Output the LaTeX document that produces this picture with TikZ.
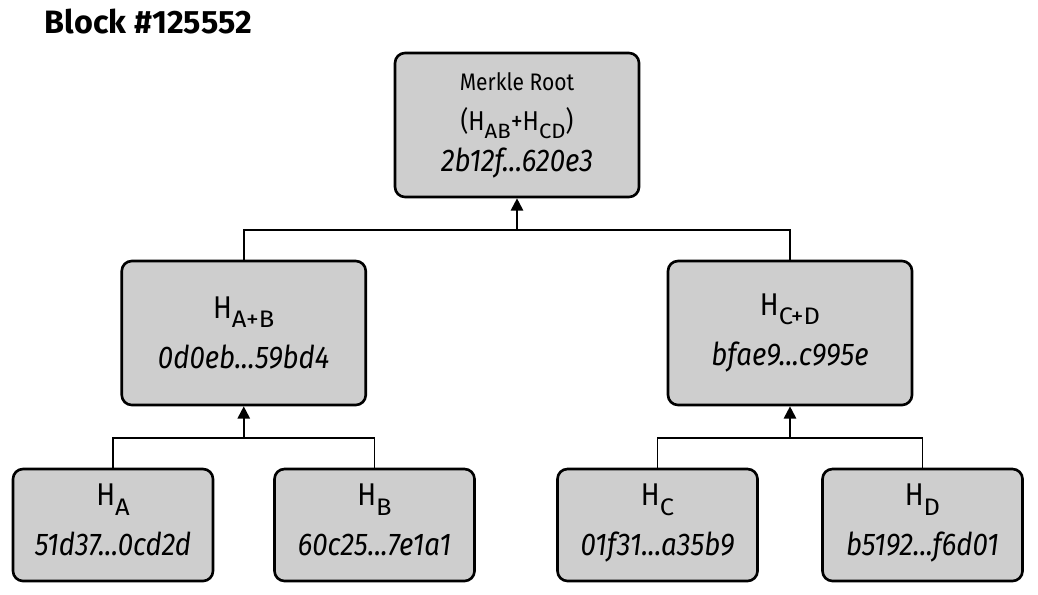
\documentclass[tikz,border=0pt]{standalone}
\usepackage{fontspec}
\setmainfont{Fira Sans}[UprightFeatures={FakeStretch=0.88},ItalicFeatures={FakeStretch=0.88},
	BoldFeatures={FakeStretch=1}]
\usetikzlibrary{arrows.meta,calc,positioning}
\definecolor{boxgray}{RGB}{206,206,206}
\newcommand{\hsub}[1]{H\raisebox{-0.3em}{\scalebox{0.92}[0.76]{#1}}}

\begin{document}
\begin{tikzpicture}[line width=1.1pt,
	hbox/.style={draw,fill=boxgray,rounded corners=0.2cm,line width=1.5pt,
		align=center,inner sep=0pt},
	big/.style={hbox,minimum width=4.88cm,minimum height=2.88cm},
	mid/.style={big,font=\fontsize{17.9}{28.5}\selectfont,execute at begin node={\rule{0pt}{18pt}}},
	leaf/.style={hbox,minimum width=4cm,minimum height=2.24cm,font=\fontsize{17.9}{28.5}\selectfont,
		execute at end node={\rule[-5.7pt]{0pt}{5.7pt}}},
	arr/.style={-{Triangle[length=7pt,width=7pt]}}]
	\useasboundingbox (0,0) rectangle (20.76,11.88);
	\node[anchor=base west,font=\fontsize{18.4}{20}\selectfont\bfseries] (title) at (0.76,11.22) {Block \#125552};
	\node[big,font=\fontsize{17.9}{23}\selectfont] (r) at (10.34,9.38) {{\fontsize{13.6}{23}\selectfont Merkle Root}\\
		{\fontsize{15.5}{23}\selectfont (\hsub{AB}+\hsub{CD})}\\ \textit{2b12f...620e3}};
	\node[mid] (ab) at (4.875,5.22) {\hsub{A+B}\\ \textit{0d0eb...59bd4}};
	\node[mid] (cd) at (15.8,5.22) {\hsub{C+D}\\ \textit{bfae9...c995e}};
	\node[leaf] (a) at (2.26,1.38) {\hsub{A}\\ \textit{51d37...0cd2d}};
	\node[leaf] (b) at (7.49,1.38) {\hsub{B}\\ \textit{60c25...7e1a1}};
	\node[leaf] (c) at (13.15,1.38) {\hsub{C}\\ \textit{01f31...a35b9}};
	\node[leaf] (d) at (18.45,1.38) {\hsub{D}\\ \textit{b5192...f6d01}};
	\coordinate (jr) at ($(r.south)+(0,-0.64)$);
	\coordinate (jab) at ($(ab.south)+(0,-0.64)$);
	\coordinate (jcd) at ($(cd.south)+(0,-0.64)$);
	\draw (ab.north) |- (jr) -| (cd.north);
	\draw[arr] (jr) -- (r.south);
	\draw (a.north) |- (jab) -| (b.north);
	\draw[arr] (jab) -- (ab.south);
	\draw (c.north) |- (jcd) -| (d.north);
	\draw[arr] (jcd) -- (cd.south);
\end{tikzpicture}
\end{document}
